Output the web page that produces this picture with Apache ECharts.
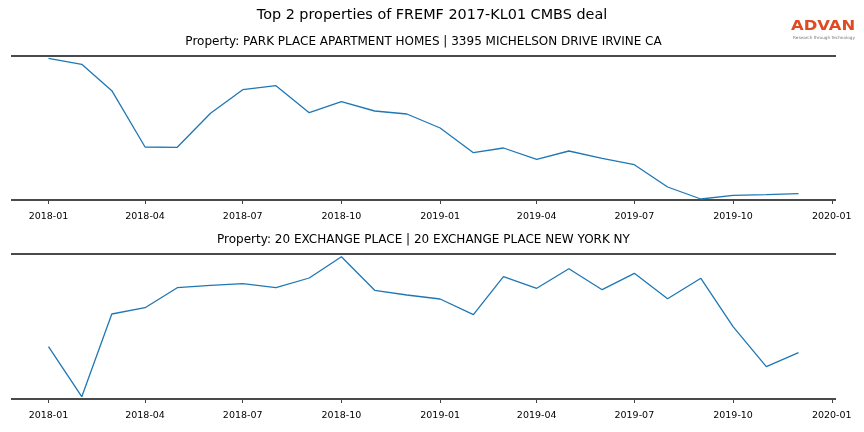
<!DOCTYPE html>
<html>
<head>
<meta charset="utf-8">
<script src="https://cdn.jsdelivr.net/npm/echarts@6/dist/echarts.min.js"></script>
<style>
html,body{margin:0;padding:0;background:#fff;}
#chart{width:864px;height:432px;}
</style>
</head>
<body>
<div id="chart"></div>
<script>
// ---- data ----
var months = ['2018-01','2018-02','2018-03','2018-04','2018-05','2018-06','2018-07','2018-08','2018-09','2018-10','2018-11','2018-12',
              '2019-01','2019-02','2019-03','2019-04','2019-05','2019-06','2019-07','2019-08','2019-09','2019-10','2019-11','2019-12'];
var parkPlace = [141.7, 135.7, 109.3, 53, 52.7, 86.7, 110.3, 114.3, 87.3, 98.3, 89, 86,
                 72, 47.3, 52, 40.7, 49, 41.7, 35.3, 13, 1, 4.7, 5.3, 6.3];
var exchangePlace = [52.3, 2.3, 85, 91.3, 111.3, 113.7, 115.3, 111.3, 121, 142.3, 108.7, 104,
                     100, 84.3, 122.3, 110.7, 130.3, 109.3, 125.7, 100.3, 120.7, 72.3, 32.3, 46.3];
var tickLabels = ['2018-01','2018-04','2018-07','2018-10','2019-01','2019-04','2019-07','2019-10','2020-01'];
var mainTitle = 'Top 2 properties of FREMF 2017-KL01 CMBS deal';
var subTitles = ['Property: PARK PLACE APARTMENT HOMES | 3395 MICHELSON DRIVE IRVINE CA',
                 'Property: 20 EXCHANGE PLACE | 20 EXCHANGE PLACE NEW YORK NY'];

function toTime(s){ var p = s.split('-'); return Date.UTC(+p[0], +p[1]-1, 1); }
var times = months.map(toTime);
var tickTimes = tickLabels.map(toTime);
var pad = (times[times.length-1] - times[0]) * 0.05;
var xMin = times[0] - pad, xMax = times[times.length-1] + pad;

function fmt(v){ var i = tickTimes.indexOf(v); return i >= 0 ? tickLabels[i] : ''; }

function xAxisFor(gi){
  return {
    type:'value', gridIndex: gi, min: xMin, max: xMax, offset: 6,
    axisLine:{show:false},
    splitLine:{show:false},
    axisTick:{show:true, length:4, lineStyle:{color:'#444', width:1}, customValues: tickTimes},
    axisLabel:{show:true, customValues: tickTimes, formatter: fmt, margin:6, color:'#000',
               fontFamily:'DejaVu Sans', fontSize:9.5, showMinLabel:true, showMaxLabel:true}
  };
}
function yAxisFor(gi, maxV){
  return {
    type:'value', gridIndex: gi, min:0, max:maxV, interval:maxV,
    axisLine:{show:false}, axisTick:{show:false}, axisLabel:{show:false},
    splitLine:{show:true, lineStyle:{color:'#4a4a4a', width:2}}
  };
}
function pairs(vals){ return vals.map(function(v,i){ return [times[i], v]; }); }

var chart = echarts.init(document.getElementById('chart'), null, {renderer:'canvas'});
chart.setOption({
  animation:false,
  backgroundColor:'#fff',
  grid:[
    {left:11, right:28, top:56, height:144},
    {left:11, right:28, top:254, height:145}
  ],
  xAxis:[xAxisFor(0), xAxisFor(1)],
  yAxis:[yAxisFor(0,144), yAxisFor(1,145)],
  series:[
    {type:'line', xAxisIndex:0, yAxisIndex:0, data:pairs(parkPlace), showSymbol:false,
     lineStyle:{color:'#1f77b4', width:1.3}, itemStyle:{color:'#1f77b4'}},
    {type:'line', xAxisIndex:1, yAxisIndex:1, data:pairs(exchangePlace), showSymbol:false,
     lineStyle:{color:'#1f77b4', width:1.3}, itemStyle:{color:'#1f77b4'}}
  ],
  graphic:[
    {type:'text', x:432, y:15, style:{text:mainTitle, fontFamily:'DejaVu Sans', fontSize:14.4, fill:'#000', align:'center', verticalAlign:'middle'}},
    {type:'text', x:423.5, y:42, style:{text:subTitles[0], fontFamily:'DejaVu Sans', fontSize:12, fill:'#000', align:'center', verticalAlign:'middle'}},
    {type:'text', x:423.5, y:240, style:{text:subTitles[1], fontFamily:'DejaVu Sans', fontSize:12, fill:'#000', align:'center', verticalAlign:'middle'}},
    {type:'text', x:791, y:26.5, scaleX:1.17, style:{text:'ADVAN', fontFamily:'DejaVu Sans', fontWeight:'bold', fontSize:14, fill:'#de4a22', align:'left', verticalAlign:'middle'}},
    {type:'text', x:824, y:38, style:{text:'Research through Technology', fontFamily:'DejaVu Sans', fontSize:4.2, fill:'#777', align:'center', verticalAlign:'middle'}}
  ]
});
</script>
</body>
</html>
